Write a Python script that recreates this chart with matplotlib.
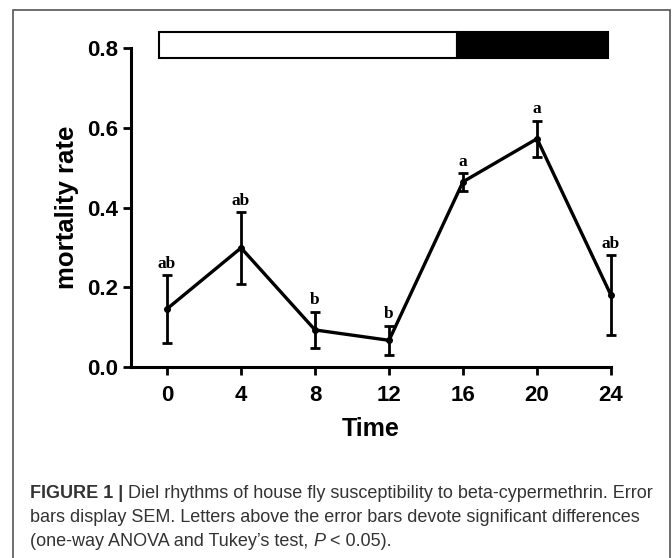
import matplotlib
matplotlib.use("Agg")
import matplotlib.pyplot as plt
from matplotlib.patches import Rectangle

import numpy as np


# =====
# Data
# =====
time = [0, 4, 8, 12, 16, 20, 24]
mortality = [0.146, 0.299, 0.093, 0.067, 0.465, 0.573, 0.180]
sem = [0.085, 0.090, 0.046, 0.037, 0.022, 0.045, 0.100]
letters = ["ab", "ab", "b", "b", "a", "a", "ab"]
ticks_y = [0.0, 0.2, 0.4, 0.6, 0.8]
ticks_y_labels = ["0.0", "0.2", "0.4", "0.6", "0.8"]

# light / dark phases on the bar at the top
light_start, light_end = -0.43, 15.7
dark_start, dark_end = 15.7, 23.86

caption_bold = "FIGURE 1 |"
caption_line1 = " Diel rhythms of house fly susceptibility to beta-cypermethrin. Error"
caption_line2 = "bars display SEM. Letters above the error bars devote significant differences"
caption_line3a = "(one-way ANOVA and Tukey\u2019s test, "
caption_line3b = "P"
caption_line3c = " < 0.05)."

# =====
# Plot
# =====
W, H = 672, 558
fig = plt.figure(figsize=(W / 100, H / 100), dpi=100)
ax = fig.add_axes([131 / W, 1 - 367 / H, (611 - 131) / W, (367 - 48.3) / H])

ax.errorbar(time, mortality, yerr=sem, color="black", lw=2.4,
            elinewidth=2.0, capsize=3.5, capthick=2.0,
            marker="o", markersize=4, clip_on=False, zorder=3)

for t, m, s, lab in zip(time, mortality, sem, letters):
    ax.annotate(lab, (t, m + s), xytext=(0, 2.5), textcoords="offset points",
                ha="center", va="bottom", fontsize=12.5, fontweight="bold",
                family="Liberation Serif")

ax.set_xlim(-1.95, 24)
ax.set_ylim(0, 0.8)
ax.set_xticks(time)
ax.set_xticklabels([str(t) for t in time])
ax.set_yticks(ticks_y)
ax.set_yticklabels(ticks_y_labels)

for lbl in ax.get_xticklabels() + ax.get_yticklabels():
    lbl.set_family("Liberation Sans")
    lbl.set_fontweight("bold")
    lbl.set_fontsize(16)

ax.tick_params(width=2, length=6, pad=3)
ax.tick_params(axis="x", pad=7)
ax.spines["top"].set_visible(False)
ax.spines["right"].set_visible(False)
ax.spines["left"].set_linewidth(2.2)
ax.spines["bottom"].set_linewidth(2.2)

ax.set_xlabel("Time", family="Liberation Sans", fontweight="bold",
              fontsize=18, labelpad=8)
ax.set_ylabel("mortality rate", family="Liberation Sans", fontweight="bold",
              fontsize=18.5, labelpad=6)

# light/dark bar
ax.add_patch(Rectangle((light_start, 0.776), light_end - light_start, 0.064,
                       facecolor="white", edgecolor="black", lw=1.5,
                       clip_on=False))
ax.add_patch(Rectangle((dark_start, 0.776), dark_end - dark_start, 0.064,
                       facecolor="black", edgecolor="black", lw=1.5,
                       clip_on=False))

# outer frame
fig.add_artist(Rectangle((13 / W, -0.01), (670 - 13) / W, 1 - 10 / H + 0.01,
                         transform=fig.transFigure, fill=False,
                         edgecolor="#555555", lw=1.2))

# caption
cap_font = dict(family="Liberation Sans", fontsize=13, color="#333333")
t1 = fig.text(30 / W, 1 - 494 / H, caption_bold, va="center",
              fontweight="bold", **cap_font)
plt.annotate(caption_line1, xy=(1, 0), xycoords=t1, va="bottom", **cap_font)
fig.text(30 / W, 1 - 518 / H, caption_line2, va="center", **cap_font)
t3 = fig.text(30 / W, 1 - 541 / H, caption_line3a, va="center", **cap_font)
t3b = plt.annotate(caption_line3b, xy=(1, 0), xycoords=t3, va="bottom",
                   style="italic", **cap_font)
plt.annotate(caption_line3c, xy=(1, 0), xycoords=t3b, va="bottom", **cap_font)

fig.savefig("out.png", dpi=100)
